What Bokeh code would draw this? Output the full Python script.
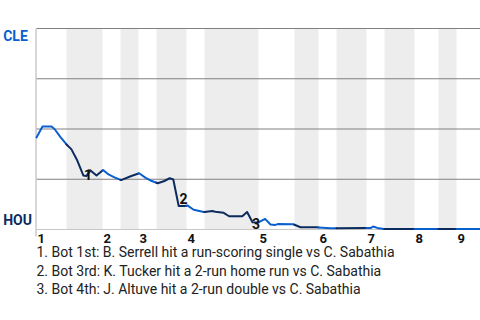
import numpy as np
from bokeh.plotting import figure
from bokeh.models import Range1d
from bokeh.core.properties import value
from bokeh.embed import file_html
from bokeh.resources import INLINE

# ---- data ----
pa_x = [0, 1, 2, 2.5, 3, 4, 5, 5.8, 6.8, 7.8, 8.3, 9, 10, 11.1, 12, 13, 14.1, 15.7, 17.1, 18.2,
        19, 20.2, 21.2, 22.2, 22.8, 23.7, 24.7, 25.2, 26.2, 27.9, 29.3, 29.8, 31.2, 32.1, 34.3, 35.1,
        36, 37, 37.3, 38.1, 39, 39.8, 40.2, 42.8, 44, 46.8, 49, 55.7, 56.1, 56.8, 57.9, 74]
cle_wp = [45.8, 51.2, 51.2, 51.2, 50.0, 46.0, 42.3, 40.0, 34.3, 26.9, 26.6, 29.4, 26.9, 29.6, 27.4,
          25.9, 24.6, 26.5, 28.0, 25.7, 24.4, 23.0, 24.0, 25.5, 24.9, 11.7, 11.7, 11.9, 9.8, 8.7,
          9.2, 8.8, 8.3, 6.6, 6.6, 8.7, 3.6, 3.5, 4.0, 5.3, 2.5, 2.3, 2.7, 2.6, 1.1, 1.1, 0.6, 0.7,
          1.5, 0.8, 0.2, 0.2]
half_bounds = [0, 5, 11, 14, 17, 20, 25, 28, 37, 43, 47, 50, 55, 58, 63, 67, 70, 74]
inning_labels = ["1", "2", "3", "4", "5", "6", "7", "8", "9"]
grid_levels = [25, 50, 75, 100]
event_labels = ["1", "2", "3"]
event_x = [8.6, 24.5, 36.6]
event_y = [27.4, 15.4, 3.0]
event_texts = [
    "1. Bot 1st: B. Serrell hit a run-scoring single vs C. Sabathia",
    "2. Bot 3rd: K. Tucker hit a 2-run home run vs C. Sabathia",
    "3. Bot 4th: J. Altuve hit a 2-run double vs C. Sabathia",
]
team_top = "CLE"
team_bottom = "HOU"

BLUE = "#0a5fcf"
NAVY = "#0d2b5e"
FONT = "Roboto"

X0, X1 = 0, 74
# whole canvas is the frame; chart area spans px 36..480 x 28..229
p = figure(width=480, height=320, x_range=Range1d(-6, 74),
           y_range=Range1d(-45.27, 113.93),
           output_backend="svg", toolbar_location=None,
           min_border=0, min_border_left=0, min_border_right=0,
           min_border_top=0, min_border_bottom=0)
p.axis.visible = False
p.grid.visible = False
p.outline_line_color = None
p.background_fill_color = "white"
p.border_fill_color = "white"

# bands for bottom halves
lefts = half_bounds[1::2]
rights = half_bounds[2::2]
p.quad(left=lefts[:len(rights)], right=rights, bottom=0, top=100,
       fill_color="#ededed", line_color=None)

p.segment(x0=[X0] * len(grid_levels), x1=[X1] * len(grid_levels), y0=grid_levels, y1=grid_levels,
          line_color="#808080", line_width=1)
p.segment(x0=[X0], x1=[X1], y0=[0], y1=[0], line_color="#c8c8c8", line_width=1)
p.segment(x0=[X0 - 0.08], x1=[X0 - 0.08], y0=[-3.5], y1=[100], line_color="#b0b0b0", line_width=1)

# line, colored by half inning
xs = np.array(pa_x, dtype=float)
ys = np.array(cle_wp, dtype=float)
dense_x = np.unique(np.concatenate([xs, np.array(half_bounds, dtype=float)]))
dense_x = dense_x[(dense_x >= xs.min()) & (dense_x <= xs.max())]
dense_y = np.interp(dense_x, xs, ys)
hb = np.array(half_bounds, dtype=float)
runs = []
for i in range(len(dense_x) - 1):
    mid = 0.5 * (dense_x[i] + dense_x[i + 1])
    idx = int(np.searchsorted(hb, mid) - 1)
    col = BLUE if idx % 2 == 0 else NAVY
    if runs and runs[-1][2] == col:
        runs[-1][0].append(dense_x[i + 1]); runs[-1][1].append(dense_y[i + 1])
    else:
        runs.append([[dense_x[i], dense_x[i + 1]], [dense_y[i], dense_y[i + 1]], col])
p.multi_line(xs=[r[0] for r in runs], ys=[r[1] for r in runs], line_color=[r[2] for r in runs],
             line_width=2, line_join="round", line_cap="round")

txt = dict(text_font=value(FONT), text_baseline="middle")
p.text(x=event_x, y=event_y, text=event_labels, text_font_style="bold",
       text_font_size="14px", text_color="#111111", text_align="center", **txt)

# team labels
p.text(x=[-5.55], y=[96.5], text=[team_top], text_font_style="bold", text_font_size="14px",
       text_color=BLUE, text_align="left", **txt)
p.text(x=[-5.55], y=[4.7], text=[team_bottom], text_font_style="bold", text_font_size="14px",
       text_color=NAVY, text_align="left", **txt)

# inning labels
inning_starts = half_bounds[0::2][:len(inning_labels)]
p.text(x=[s + 0.15 for s in inning_starts], y=[-4.5] * len(inning_labels), text=inning_labels,
       text_font_style="bold", text_font_size="13px", text_color="#111111", text_align="left", **txt)

p.text(x=[0] * len(event_texts), y=[-11.4 - 9.0 * k for k in range(len(event_texts))],
       text=event_texts, text_font_size="14px", text_color="#222222", text_align="left", **txt)

open("out.html", "w").write(file_html(p, INLINE))
